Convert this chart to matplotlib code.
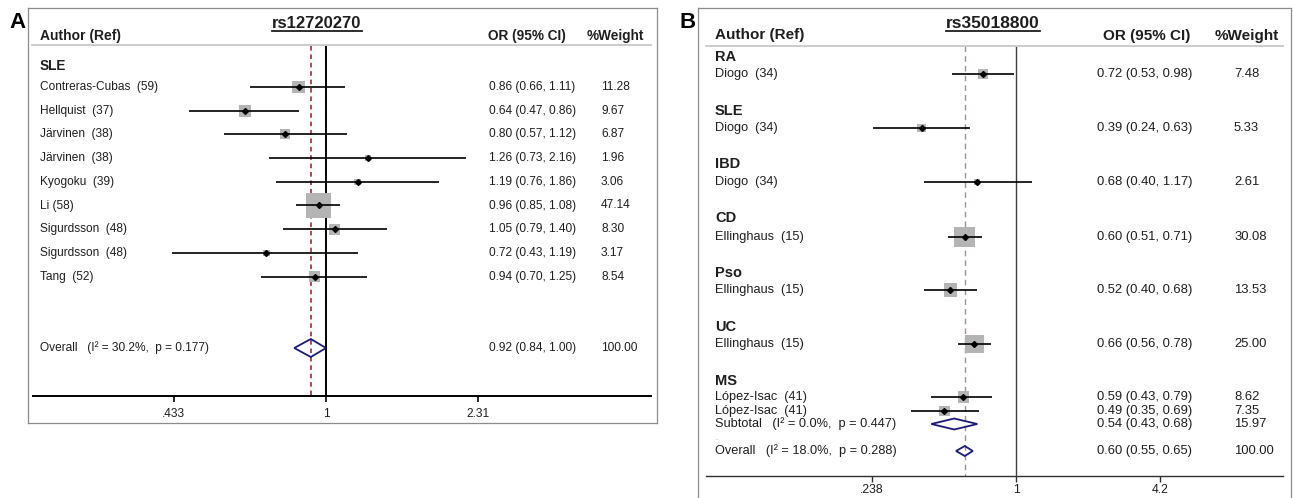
import numpy as np
import matplotlib.pyplot as plt
from matplotlib.transforms import Affine2D
from matplotlib.lines import Line2D

plt.rcParams['font.family'] = ['Liberation Sans', 'DejaVu Sans']

W, H = 1293, 498

# ---- panel A data ----
a_snp = 'rs12720270'
a_group = 'SLE'
a_studies = ['Contreras-Cubas  (59)', 'Hellquist  (37)', 'Järvinen  (38)', 'Järvinen  (38)',
             'Kyogoku  (39)', 'Li (58)', 'Sigurdsson  (48)', 'Sigurdsson  (48)', 'Tang  (52)']
a_or = [0.86, 0.64, 0.80, 1.26, 1.19, 0.96, 1.05, 0.72, 0.94]
a_lo = [0.66, 0.47, 0.57, 0.73, 0.76, 0.85, 0.79, 0.43, 0.70]
a_hi = [1.11, 0.86, 1.12, 2.16, 1.86, 1.08, 1.40, 1.19, 1.25]
a_wt = [11.28, 9.67, 6.87, 1.96, 3.06, 47.14, 8.30, 3.17, 8.54]
a_overall = [0.92, 0.84, 1.00, 100.00]
a_overall_label = 'Overall   (I² = 30.2%,  p = 0.177)'
a_ticks = [0.433, 1, 2.31]
a_ticklabels = ['.433', '1', '2.31']

# ---- panel B data ----
b_snp = 'rs35018800'
b_groups = ['RA', 'SLE', 'IBD', 'CD', 'Pso', 'UC', 'MS']
b_studies = ['Diogo  (34)', 'Diogo  (34)', 'Diogo  (34)', 'Ellinghaus  (15)', 'Ellinghaus  (15)',
             'Ellinghaus  (15)', 'López-Isac  (41)', 'López-Isac  (41)']
b_or = [0.72, 0.39, 0.68, 0.60, 0.52, 0.66, 0.59, 0.49]
b_lo = [0.53, 0.24, 0.40, 0.51, 0.40, 0.56, 0.43, 0.35]
b_hi = [0.98, 0.63, 1.17, 0.71, 0.68, 0.78, 0.79, 0.69]
b_wt = [7.48, 5.33, 2.61, 30.08, 13.53, 25.00, 8.62, 7.35]
b_sub = [0.54, 0.43, 0.68, 15.97]
b_sub_label = 'Subtotal   (I² = 0.0%,  p = 0.447)'
b_overall = [0.60, 0.55, 0.65, 100.00]
b_overall_label = 'Overall   (I² = 18.0%,  p = 0.288)'
b_ticks = [0.238, 1, 4.2]
b_ticklabels = ['.238', '1', '4.2']

# ---- layout (pixel rows of the original image) ----
a_rows = 87 + 23.7 * np.arange(len(a_studies))
a_group_y, a_overall_y, a_axis_y = 66, 348, 396
b_group_y = [57, 111, 164, 218, 273, 327, 381]
b_rows = [74, 128, 182, 237, 290, 344, 397, 411]
b_sub_y, b_dot_y, b_overall_y, b_axis_y = 424, 438, 451, 476

TXT = '#1e1e1e'
BOX = '#b4b4b4'
NAVY = '#1c1c78'

fig = plt.figure(figsize=(W / 100, H / 100), dpi=100)
pix = Affine2D().scale(1 / W, -1 / H).translate(0, 1) + fig.transFigure


def make_axes(x0, x1, y0, y1, cpx, scale):
    ax = fig.add_axes([x0 / W, 1 - y1 / H, (x1 - x0) / W, (y1 - y0) / H])
    ax.set_xscale('log')
    ax.set_xlim(np.exp((x0 - cpx) / scale), np.exp((x1 - cpx) / scale))
    ax.set_ylim(y1, y0)
    ax.set_xticks([])
    ax.set_yticks([])
    ax.minorticks_off()
    for s in ax.spines.values():
        s.set_color('#8c8c8c')
        s.set_linewidth(0.9)
    return ax


def forest(ax, rows, ors, los, his, wts):
    ax.hlines(rows, los, his, color='black', lw=1.2, zorder=3)
    side = 3.75 * np.sqrt(np.array(wts)) * 0.72
    ax.scatter(ors, rows, s=side ** 2, marker='s', color=BOX, lw=0, zorder=2)
    ax.plot(ors, rows, 'D', color='black', ms=3, zorder=4)


def diamond(ax, y, est, lo, hi, h):
    ax.fill([lo, est, hi, est], [y, y - h, y, y + h], facecolor='none',
            edgecolor=NAVY, lw=1.3, zorder=4)


def underline_title(t, y):
    fig.canvas.draw()
    bb = t.get_window_extent(fig.canvas.get_renderer()).transformed(fig.transFigure.inverted())
    fig.add_artist(Line2D([bb.x0, bb.x1], [1 - y / H] * 2, color=TXT, lw=1.3,
                          transform=fig.transFigure))


# ================= Panel A =================
axA = make_axes(28, 657, 8, 423, 326, 182)
fig.text(17, 22, 'A', transform=pix, fontsize=16, fontweight='bold', ha='center', va='center')
tA = fig.text(317, 24, a_snp, transform=pix, fontsize=12, fontweight='bold', ha='center',
              va='center', color=TXT)
fig.text(40, 36, 'Author (Ref)', transform=pix, fontsize=10, fontweight='bold', va='center', color=TXT)
fig.text(488, 36, 'OR (95% CI)', transform=pix, fontsize=9.8, fontweight='bold', va='center', color=TXT)
fig.text(587, 36, '%Weight', transform=pix, fontsize=9.8, fontweight='bold', va='center', color=TXT)
fig.add_artist(Line2D([32 / W, 651 / W], [1 - 45.5 / H] * 2, color='#c8c8c8', lw=1.3,
                      transform=fig.transFigure))
fig.text(40, a_group_y, a_group, transform=pix, fontsize=9.8, fontweight='bold', va='center', color=TXT)

axA.vlines(1, 46, a_axis_y, color='black', lw=1.4, zorder=1)
axA.vlines(a_overall[0], 46, a_axis_y, color='#8b1c2c', lw=1.1, linestyles=(0, (3, 2.5)), zorder=1)
forest(axA, a_rows, a_or, a_lo, a_hi, a_wt)
diamond(axA, a_overall_y, *a_overall[:3], 9)

for y, lab, o, l, h, w in zip(a_rows, a_studies, a_or, a_lo, a_hi, a_wt):
    fig.text(40, y, lab, transform=pix, fontsize=8.6, va='center', color=TXT)
    fig.text(489, y, f'{o:.2f} ({l:.2f}, {h:.2f})', transform=pix, fontsize=8.6, va='center', color=TXT)
    fig.text(601, y, f'{w:.2f}', transform=pix, fontsize=8.6, va='center', color=TXT)
fig.text(40, a_overall_y, a_overall_label, transform=pix, fontsize=8.6, va='center', color=TXT)
fig.text(489, a_overall_y, f'{a_overall[0]:.2f} ({a_overall[1]:.2f}, {a_overall[2]:.2f})',
         transform=pix, fontsize=8.6, va='center', color=TXT)
fig.text(601, a_overall_y, f'{a_overall[3]:.2f}', transform=pix, fontsize=8.6, va='center', color=TXT)

fig.add_artist(Line2D([33 / W, 651 / W], [1 - a_axis_y / H] * 2, color='black', lw=1.4,
                      transform=fig.transFigure))
axA.vlines(a_ticks, a_axis_y, a_axis_y + 6, color='black', lw=1.2)
for t, lab in zip(a_ticks, a_ticklabels):
    axA.text(t, a_axis_y + 18, lab, fontsize=8.6, ha='center', va='center', color=TXT)

# ================= Panel B =================
axB = make_axes(698, 1291, 8, 520, 1016, 100.3)
fig.text(688, 22, 'B', transform=pix, fontsize=16, fontweight='bold', ha='center', va='center')
tB = fig.text(993, 24, b_snp, transform=pix, fontsize=12.5, fontweight='bold', ha='center',
              va='center', color=TXT)
fig.text(715, 35, 'Author (Ref)', transform=pix, fontsize=11, fontweight='bold', va='center', color=TXT)
fig.text(1103, 36, 'OR (95% CI)', transform=pix, fontsize=11, fontweight='bold', va='center', color=TXT)
fig.text(1215, 36, '%Weight', transform=pix, fontsize=11, fontweight='bold', va='center', color=TXT)
fig.add_artist(Line2D([706 / W, 1283 / W], [1 - 46 / H] * 2, color='#c8c8c8', lw=1.3,
                      transform=fig.transFigure))

axB.vlines(1, 46, b_axis_y, color='#404040', lw=1.0, zorder=1)
axB.vlines(b_overall[0], 46, b_axis_y, color='#b08a8e', lw=1.0, linestyles=(0, (4, 3)), zorder=1)
forest(axB, b_rows, b_or, b_lo, b_hi, b_wt)
diamond(axB, b_sub_y, *b_sub[:3], 5.5)
diamond(axB, b_overall_y, *b_overall[:3], 5)

for y, g in zip(b_group_y, b_groups):
    fig.text(715, y, g, transform=pix, fontsize=10.5, fontweight='bold', va='center', color=TXT)
for y, lab, o, l, h, w in zip(b_rows, b_studies, b_or, b_lo, b_hi, b_wt):
    fig.text(715, y, lab, transform=pix, fontsize=9.2, va='center', color=TXT)
    fig.text(1097, y, f'{o:.2f} ({l:.2f}, {h:.2f})', transform=pix, fontsize=9.4, va='center', color=TXT)
    fig.text(1234, y, f'{w:.2f}', transform=pix, fontsize=9.4, va='center', color=TXT)
for y, lab, vals in [(b_sub_y, b_sub_label, b_sub), (b_overall_y, b_overall_label, b_overall)]:
    fig.text(715, y, lab, transform=pix, fontsize=9.2, va='center', color=TXT)
    fig.text(1097, y, f'{vals[0]:.2f} ({vals[1]:.2f}, {vals[2]:.2f})', transform=pix,
             fontsize=9.4, va='center', color=TXT)
    fig.text(1234, y, f'{vals[3]:.2f}', transform=pix, fontsize=9.4, va='center', color=TXT)
fig.text(715, b_dot_y, '.', transform=pix, fontsize=5, va='center', color='#888888')

fig.add_artist(Line2D([706 / W, 1283 / W], [1 - b_axis_y / H] * 2, color='#303030', lw=1.0,
                      transform=fig.transFigure))
axB.vlines(b_ticks, b_axis_y, b_axis_y + 6, color='#303030', lw=1.0)
for t, lab in zip(b_ticks, b_ticklabels):
    axB.text(t, b_axis_y + 8, lab, fontsize=8.8, ha='center', va='top', color=TXT)

underline_title(tA, 31)
underline_title(tB, 31.5)

fig.savefig('out.png', dpi=100)
